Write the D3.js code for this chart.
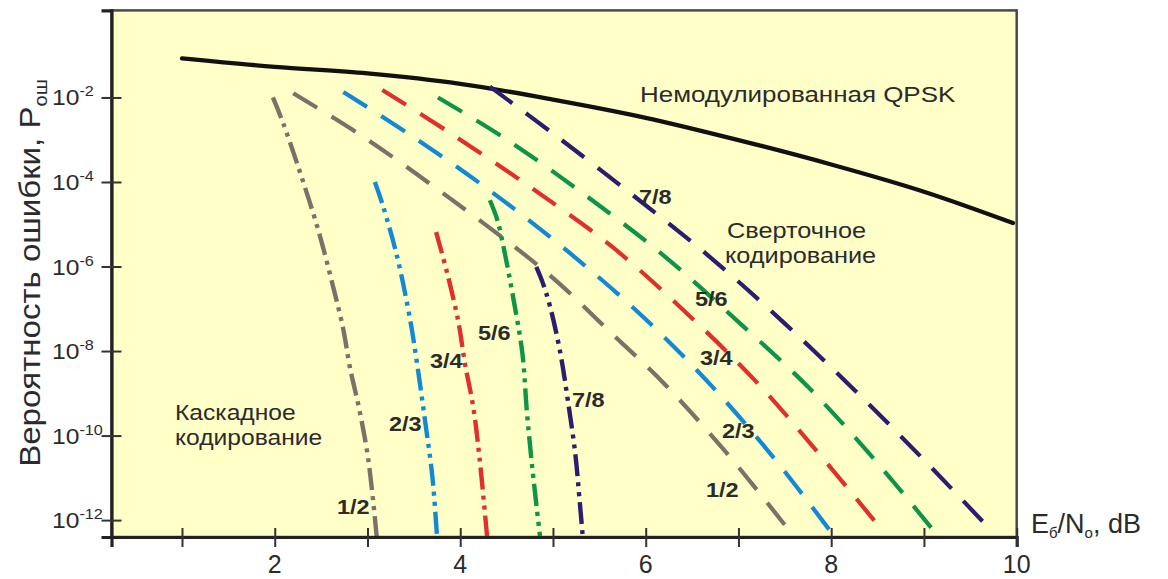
<!DOCTYPE html>
<html>
<head>
<meta charset="utf-8">
<script src="https://cdn.jsdelivr.net/npm/d3@7"></script>
<style>
  html, body { margin: 0; padding: 0; background: #ffffff; }
  svg { display: block; }
  text { font-family: "Liberation Sans", Arial, sans-serif; fill: #2b2b2b; }
</style>
</head>
<body>
<svg id="chart" width="1168" height="579"></svg>
<script>
// Axis ticks
const xTickValues = [1, 2, 3, 4, 5, 6, 7, 8, 9, 10];
const xTickLabels = [2, 4, 6, 8, 10];
const yTickExponents = [-2, -4, -6, -8, -10, -12];

// Uncoded (unmodulated) QPSK
const qpskEb = [1, 2, 3, 4, 5, 6, 7, 8, 9, 9.96];
const qpskP  = [8.4e-2, 5.3e-2, 3.7e-2, 2.1e-2, 8.9e-3, 3.3e-3, 9.8e-4, 2.6e-4, 5.9e-5, 1.07e-5];

// Convolutional coding, rates 1/2 ... 7/8
const convRates = ["1/2", "2/3", "3/4", "5/6", "7/8"];
const conv12Eb = [2.20, 2.94, 3.81, 4.67, 5.06, 5.59, 6.21, 6.91, 7.56];
const conv12P  = [1.26e-2, 1.23e-3, 5.5e-5, 2.1e-6, 4.1e-7, 3.2e-8, 1.6e-9, 3.1e-11, 5.2e-13];
const conv23Eb = [2.74, 3.46, 4.34, 5.18, 5.97, 6.71, 7.39, 8.02];
const conv23P  = [1.35e-2, 1.3e-3, 5.8e-5, 2.1e-6, 6.5e-8, 1.5e-9, 2.8e-11, 4.5e-13];
const conv34Eb = [3.16, 3.89, 4.77, 5.64, 6.43, 7.18, 7.86, 8.52];
const conv34P  = [1.5e-2, 1.45e-3, 7.2e-5, 2.9e-6, 8.3e-8, 2.0e-9, 3.9e-11, 6.9e-13];
const conv56Eb = [3.76, 4.49, 5.37, 6.21, 6.99, 7.76, 8.48, 9.14];
const conv56P  = [1.0e-2, 1.05e-3, 4.5e-5, 1.7e-6, 5.1e-8, 1.35e-9, 2.5e-11, 4.5e-13];
const conv78Eb = [4.32, 5.02, 5.86, 6.69, 7.48, 8.25, 8.99, 9.70];
const conv78P  = [1.8e-2, 1.3e-3, 4.9e-5, 1.7e-6, 4.9e-8, 1.2e-9, 2.8e-11, 6.5e-13];

// Concatenated coding, rates 1/2 ... 7/8
const cc12Eb = [1.98, 2.09, 2.29, 2.47, 2.63, 2.74, 2.81, 2.92, 3.01, 3.10];
const cc12P  = [1.0e-2, 2.5e-3, 1.3e-4, 7.2e-6, 3.3e-7, 3.2e-8, 4.2e-9, 3.4e-10, 2.6e-11, 4.0e-13];
const cc23Eb = [3.08, 3.17, 3.32, 3.46, 3.54, 3.62, 3.70, 3.75];
const cc23P  = [1.0e-4, 2.6e-5, 1.7e-6, 5.5e-8, 4.2e-9, 2.3e-10, 1.05e-11, 4.0e-13];
const cc34Eb = [3.74, 3.86, 3.98, 4.05, 4.14, 4.21, 4.29];
const cc34P  = [6.5e-6, 6.9e-7, 4.9e-8, 5.2e-9, 4.8e-10, 2.7e-11, 4.0e-13];
const cc56Eb = [4.32, 4.40, 4.48, 4.57, 4.67, 4.72, 4.78, 4.86];
const cc56P  = [3.7e-5, 1.26e-5, 2.1e-6, 1.9e-7, 8.9e-9, 3.4e-10, 1.5e-11, 4.2e-13];
const cc78Eb = [4.82, 4.89, 4.97, 5.08, 5.16, 5.24, 5.29, 5.32];
const cc78P  = [9.8e-7, 4.1e-7, 1.1e-7, 8.9e-9, 6.9e-10, 3.8e-11, 2.5e-12, 4.4e-13];

const rateColors = ["#7b7168", "#1389d6", "#e1302c", "#0e9447", "#2b1d70"];

const svg = d3.select("#chart");
const plotL = 111.5, plotR = 1016.7, plotT = 10.4, plotB = 537;

const x = d3.scaleLinear().domain([0.24, 10]).range([plotL, plotR]);
const y = d3.scaleLog().domain([Math.pow(10, -12.4), Math.pow(10, 0.06)]).range([plotB, plotT]);

// plot background
svg.append("rect")
  .attr("x", plotL).attr("y", plotT)
  .attr("width", plotR - plotL).attr("height", plotB - plotT)
  .attr("fill", "#ffffc8");

svg.append("clipPath").attr("id", "plotClip")
  .append("rect")
  .attr("x", plotL).attr("y", plotT)
  .attr("width", plotR - plotL).attr("height", plotB - plotT);

const plot = svg.append("g").attr("clip-path", "url(#plotClip)");

const line = d3.line()
  .x(d => x(d[0]))
  .y(d => y(d[1]))
  .curve(d3.curveCatmullRom.alpha(0.5));

const zip = (a, b) => a.map((v, i) => [v, b[i]]);

// uncoded QPSK
plot.append("path")
  .datum(zip(qpskEb, qpskP))
  .attr("d", line)
  .attr("fill", "none")
  .attr("stroke", "#111")
  .attr("stroke-width", 4.3)
  .attr("stroke-linecap", "round");

// convolutional (dashed)
const convSeries = [
  zip(conv12Eb, conv12P), zip(conv23Eb, conv23P), zip(conv34Eb, conv34P),
  zip(conv56Eb, conv56P), zip(conv78Eb, conv78P)
];
convSeries.forEach((s, i) => {
  plot.append("path")
    .datum(s)
    .attr("d", line)
    .attr("fill", "none")
    .attr("stroke", rateColors[i])
    .attr("stroke-width", 4.2)
    .attr("stroke-dasharray", "28,17");
});

// concatenated (dash-dot-dot)
const ccSeries = [
  zip(cc12Eb, cc12P), zip(cc23Eb, cc23P), zip(cc34Eb, cc34P),
  zip(cc56Eb, cc56P), zip(cc78Eb, cc78P)
];
ccSeries.forEach((s, i) => {
  plot.append("path")
    .datum(s)
    .attr("d", line)
    .attr("fill", "none")
    .attr("stroke", rateColors[i])
    .attr("stroke-width", 4.4)
    .attr("stroke-dasharray", "22,6,4,6,4,6");
});

// frame
svg.append("rect")
  .attr("x", plotL).attr("y", plotT)
  .attr("width", plotR - plotL).attr("height", plotB - plotT)
  .attr("fill", "none")
  .attr("stroke", "#4a4a4a")
  .attr("stroke-width", 2.5);

// x axis
const xAxis = d3.axisBottom(x).tickValues(xTickValues).tickSize(10).tickFormat("");
const gx = svg.append("g").attr("transform", `translate(0,${plotB})`).call(xAxis);
gx.select(".domain").attr("stroke", "#222").attr("stroke-width", 3.2);
gx.selectAll(".tick line").attr("y1", -9).attr("y2", 10).attr("stroke", "#333").attr("stroke-width", 2);

xTickLabels.forEach(v => {
  svg.append("text")
    .attr("x", x(v)).attr("y", 573)
    .attr("text-anchor", "middle")
    .attr("font-size", 25)
    .text(v);
});

// y axis
const yAxis = d3.axisLeft(y).tickValues(yTickExponents.map(e => Math.pow(10, e))).tickSize(10).tickFormat("");
const gy = svg.append("g").attr("transform", `translate(${plotL},0)`).call(yAxis);
gy.select(".domain").attr("stroke", "#222").attr("stroke-width", 3.2);
gy.selectAll(".tick line").attr("x1", 10).attr("x2", -10).attr("stroke", "#333").attr("stroke-width", 2);

yTickExponents.forEach(e => {
  const t = svg.append("text")
    .attr("transform", `translate(52,${y(Math.pow(10, e)) + 8}) scale(1.12,1)`)
    .attr("font-size", 22);
  t.append("tspan").text("10");
  t.append("tspan").attr("dy", -9).attr("font-size", 14.5).text("-" + (-e));
});

// axis titles
const yt = svg.append("text")
  .attr("transform", "translate(40,273) rotate(-90) scale(1.12,1)")
  .attr("text-anchor", "middle")
  .attr("font-size", 29.5);
yt.append("tspan").text("Вероятность ошибки, P");
yt.append("tspan").attr("dy", 7).attr("font-size", 18).text("ош");

const xt = svg.append("text")
  .attr("transform", "translate(1031,533)")
  .attr("font-size", 27);
xt.append("tspan").text("E");
xt.append("tspan").attr("dy", 5).attr("font-size", 15).text("б");
xt.append("tspan").attr("dy", -5).text("/N");
xt.append("tspan").attr("dy", 5).attr("font-size", 15).text("o");
xt.append("tspan").attr("dy", -5).text(", dB");

// annotations
function note(str, px, py, size, sx, bold) {
  return svg.append("text")
    .attr("transform", `translate(${px},${py}) scale(${sx},1)`)
    .attr("font-size", size)
    .attr("font-weight", bold ? "bold" : "normal")
    .text(str);
}
note("Немодулированная QPSK", 640, 102, 22, 1.18, false);
note("Сверточное", 727, 238, 22, 1.15, false);
note("кодирование", 725, 263, 22, 1.15, false);
note("Каскадное", 175, 420, 22, 1.12, false);
note("кодирование", 175, 445, 22, 1.12, false);

// rate labels, convolutional group
const convLabelPos = [[706, 497], [722, 438], [700, 365], [695, 306], [639, 204]];
convRates.forEach((r, i) => note(r, convLabelPos[i][0], convLabelPos[i][1], 21, 1.12, true));

// rate labels, concatenated group
const ccLabelPos = [[337, 514], [389, 431], [430, 368], [478, 340], [572, 407]];
convRates.forEach((r, i) => note(r, ccLabelPos[i][0], ccLabelPos[i][1], 21, 1.12, true));
</script>
</body>
</html>
